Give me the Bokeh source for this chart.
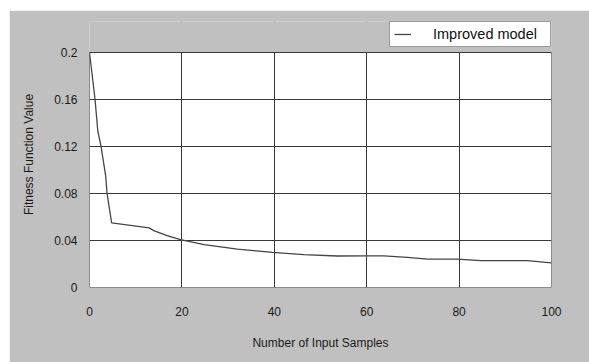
from bokeh.plotting import figure
from bokeh.models import Range1d, FixedTicker, Legend, LegendItem, BoxAnnotation
from bokeh.embed import file_html
from bokeh.resources import INLINE

# data
samples = [0, 1.2, 1.8, 2.5, 3.5, 3.8, 4.8, 12.9, 13.9, 16.8, 19.7, 24.8, 32, 39.6,
           46.4, 53.6, 59.8, 63.7, 68.8, 73.1, 79.6, 84.7, 94.8, 100]
fitness = [0.2, 0.16, 0.133, 0.12, 0.095, 0.08, 0.055, 0.0507, 0.0484, 0.0441, 0.0407,
           0.0364, 0.0327, 0.0299, 0.0279, 0.0268, 0.027, 0.027, 0.0256, 0.0242, 0.0242,
           0.0228, 0.0228, 0.021]
x_ticks = [0, 20, 40, 60, 80, 100]
y_ticks = [0, 0.04, 0.08, 0.12, 0.16, 0.2]
y_tick_labels = ["0", "0.04", "0.08", "0.12", "0.16", "0.2"]
series_name = "Improved model"

FONT = "Liberation Sans"
DARK = "#3a3a3a"
GREY = "#c0c0c0"

# layout: the frame reaches up into the legend strip; plot area = 235 px of 266 px
X0, X1 = x_ticks[0], x_ticks[-1]
Y0, Y1 = y_ticks[0], y_ticks[-1]
Y_TOP = Y1 * 266 / 235

p = figure(width=580, height=352, output_backend="svg", toolbar_location=None,
           x_range=Range1d(X0, X1), y_range=Range1d(Y0, Y_TOP),
           min_border_left=80, min_border_right=38, min_border_top=11, min_border_bottom=75)
p.margin = (10, 0, 0, 9)
p.border_fill_color = GREY
p.background_fill_color = GREY
p.outline_line_color = None

# white plotting area (under the grid)
p.add_layout(BoxAnnotation(left=X0, right=X1, bottom=Y0, top=Y1,
                           fill_color="white", fill_alpha=1, line_color=None,
                           level="image"))

r = p.line(samples, fitness, line_color="#444444", line_width=1.3)

p.xaxis.ticker = FixedTicker(ticks=x_ticks)
p.yaxis.ticker = FixedTicker(ticks=y_ticks)
p.yaxis.major_label_overrides = {t: l for t, l in zip(y_ticks, y_tick_labels)}

for ax in (p.xaxis[0], p.yaxis[0]):
    ax.axis_line_color = None
    ax.major_tick_line_color = None
    ax.minor_tick_line_color = None
    ax.major_tick_out = 0
    ax.major_tick_in = 0
    ax.major_label_text_font = FONT
    ax.major_label_text_font_size = "12px"
    ax.major_label_text_color = "#1a1a1a"
    ax.axis_label_text_font = FONT
    ax.axis_label_text_font_size = "12px"
    ax.axis_label_text_font_style = "normal"
    ax.axis_label_text_color = "#1a1a1a"

p.xaxis.axis_label = "Number of Input Samples"
p.yaxis.axis_label = "Fitness Function Value"
p.xaxis.major_label_standoff = 19
p.xaxis.axis_label_standoff = 17
p.yaxis.major_label_standoff = 12
p.yaxis.axis_label_standoff = 15

p.xgrid.ticker = FixedTicker(ticks=x_ticks)
p.ygrid.ticker = FixedTicker(ticks=y_ticks)
p.grid.grid_line_color = DARK
p.grid.grid_line_alpha = 1
p.grid.grid_line_width = 1

# grey strip above the plotting area hides the grid there, then the plot-area border
p.add_layout(BoxAnnotation(left=X0, right=X1, bottom=Y1, top=Y_TOP,
                           fill_color=GREY, fill_alpha=1, line_color=None))
p.add_layout(BoxAnnotation(left=X0, right=X1, bottom=Y0, top=Y1,
                           fill_alpha=0, line_color=DARK, line_alpha=1, line_width=1))

legend = Legend(items=[LegendItem(label=series_name, renderers=[r])],
                location=(300, 240), orientation="vertical",
                padding=4, spacing=0, margin=0,
                glyph_width=17, glyph_height=16, label_height=16,
                label_standoff=22, label_width=113,
                label_text_font=FONT, label_text_font_size="14.5px", label_text_color="#111111",
                border_line_color=DARK, border_line_width=1,
                background_fill_color="white", background_fill_alpha=1)
p.add_layout(legend, "center")

open("out.html", "w").write(file_html(p, INLINE))
